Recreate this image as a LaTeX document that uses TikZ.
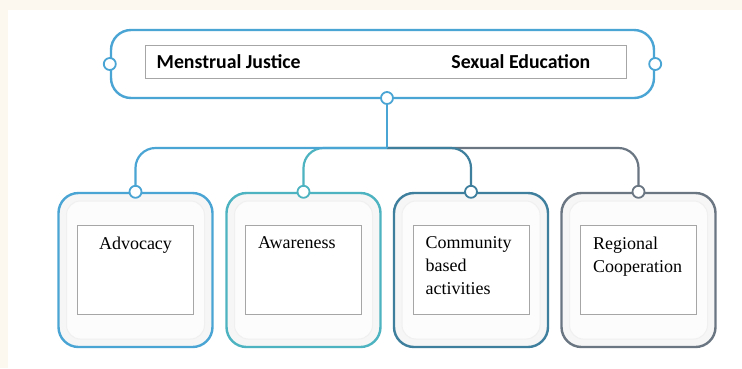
\documentclass[tikz,border=0pt]{standalone}
\usepackage{fontspec}
\setmainfont{Liberation Serif}
\newfontfamily\headfont{Carlito}
\usetikzlibrary{positioning}

\definecolor{skyblue}{HTML}{4AA5D5}
\definecolor{tealblue}{HTML}{4DB3C0}
\definecolor{steelblue}{HTML}{3F7F9E}
\definecolor{slategray}{HTML}{6B7683}
\definecolor{cream}{HTML}{FDF8EF}

\tikzset{
  card/.style={draw=#1, line width=2.4pt, rounded corners=20, fill=gray!7,
    minimum width=154, minimum height=154, inner sep=0},
  panel/.style={rounded corners=14, fill=gray!2, draw=gray!12, line width=1pt,
    minimum width=138, minimum height=138, inner sep=0},
  label box/.style={draw=gray!70, line width=1pt, fill=white,
    minimum width=116, minimum height=89, inner sep=0},
  port/.style={circle, draw=#1, fill=white, line width=1.8pt,
    minimum size=12, inner sep=0},
  link/.style={draw=#1, line width=2.2pt, rounded corners=20},
  cardtext/.style={font=\fontsize{18}{23}\selectfont, inner sep=0,
    align=left, text=black},
  headtext/.style={font=\headfont\bfseries\fontsize{19.8}{22}\selectfont,
    inner sep=0, text=black}
}

\begin{document}
\begin{tikzpicture}[x=1pt, y=-1pt]
\useasboundingbox (0,0) rectangle (742,368);
\fill[cream] (0,0) rectangle (742,368);
\fill[white] (8,10) rectangle (742,368);

% top box
\node[draw=skyblue, line width=2.4pt, rounded corners=20, fill=white,
  minimum width=543, minimum height=68] (top) at (382.5,64) {};
\node[draw=gray!70, line width=1pt, fill=white,
  minimum width=481, minimum height=33] (head) at (385.5,61.5) {};
\node[headtext, anchor=west] (justice) at ([xshift=12]head.west) {Menstrual Justice};
\node[headtext, anchor=east] (education) at ([xshift=-36]head.east) {Sexual Education};

% cards
\node[card=skyblue] (advocacy) at (135.5,270) {};
\node[card=tealblue] (awareness) at (303.5,270) {};
\node[card=steelblue] (community) at (471,270) {};
\node[card=slategray] (regional) at (638.5,270) {};

\foreach \c in {advocacy, awareness, community, regional} {
  \node[panel] (\c-p) at (\c.center) {};
  \node[label box] (\c-in) at ([yshift=0.5]\c.center) {};
}

\node[cardtext, anchor=north] (t1) at ([yshift=-12]advocacy-in.north) {Advocacy};
\node[cardtext, anchor=north west] (t2) at ([xshift=13,yshift=-12]awareness-in.north west) {Awareness};
\node[cardtext, anchor=north west] (t3) at ([xshift=13,yshift=-12]community-in.north west) {Community\\based\\activities};
\node[cardtext, anchor=north west] (t4) at ([xshift=13,yshift=-12]regional-in.north west) {Regional\\Cooperation};

% connectors
\coordinate (hub) at (387,98);
\coordinate (bus) at (387,148);
\draw[link=slategray] (bus) -| (regional.north);
\draw[link=steelblue] (bus) -| (community.north);
\draw[link=tealblue] (bus) -| (awareness.north);
\draw[link=skyblue] (bus) -| (advocacy.north);
\draw[link=skyblue] (hub) -- (bus);

% ports
\node[port=skyblue] (p0) at (top.west) {};
\node[port=skyblue] (p1) at (top.east) {};
\node[port=skyblue] (p2) at (hub) {};
\node[port=skyblue] (p3) at (advocacy.north) {};
\node[port=tealblue] (p4) at (awareness.north) {};
\node[port=steelblue] (p5) at (community.north) {};
\node[port=slategray] (p6) at (regional.north) {};
\end{tikzpicture}
\end{document}
